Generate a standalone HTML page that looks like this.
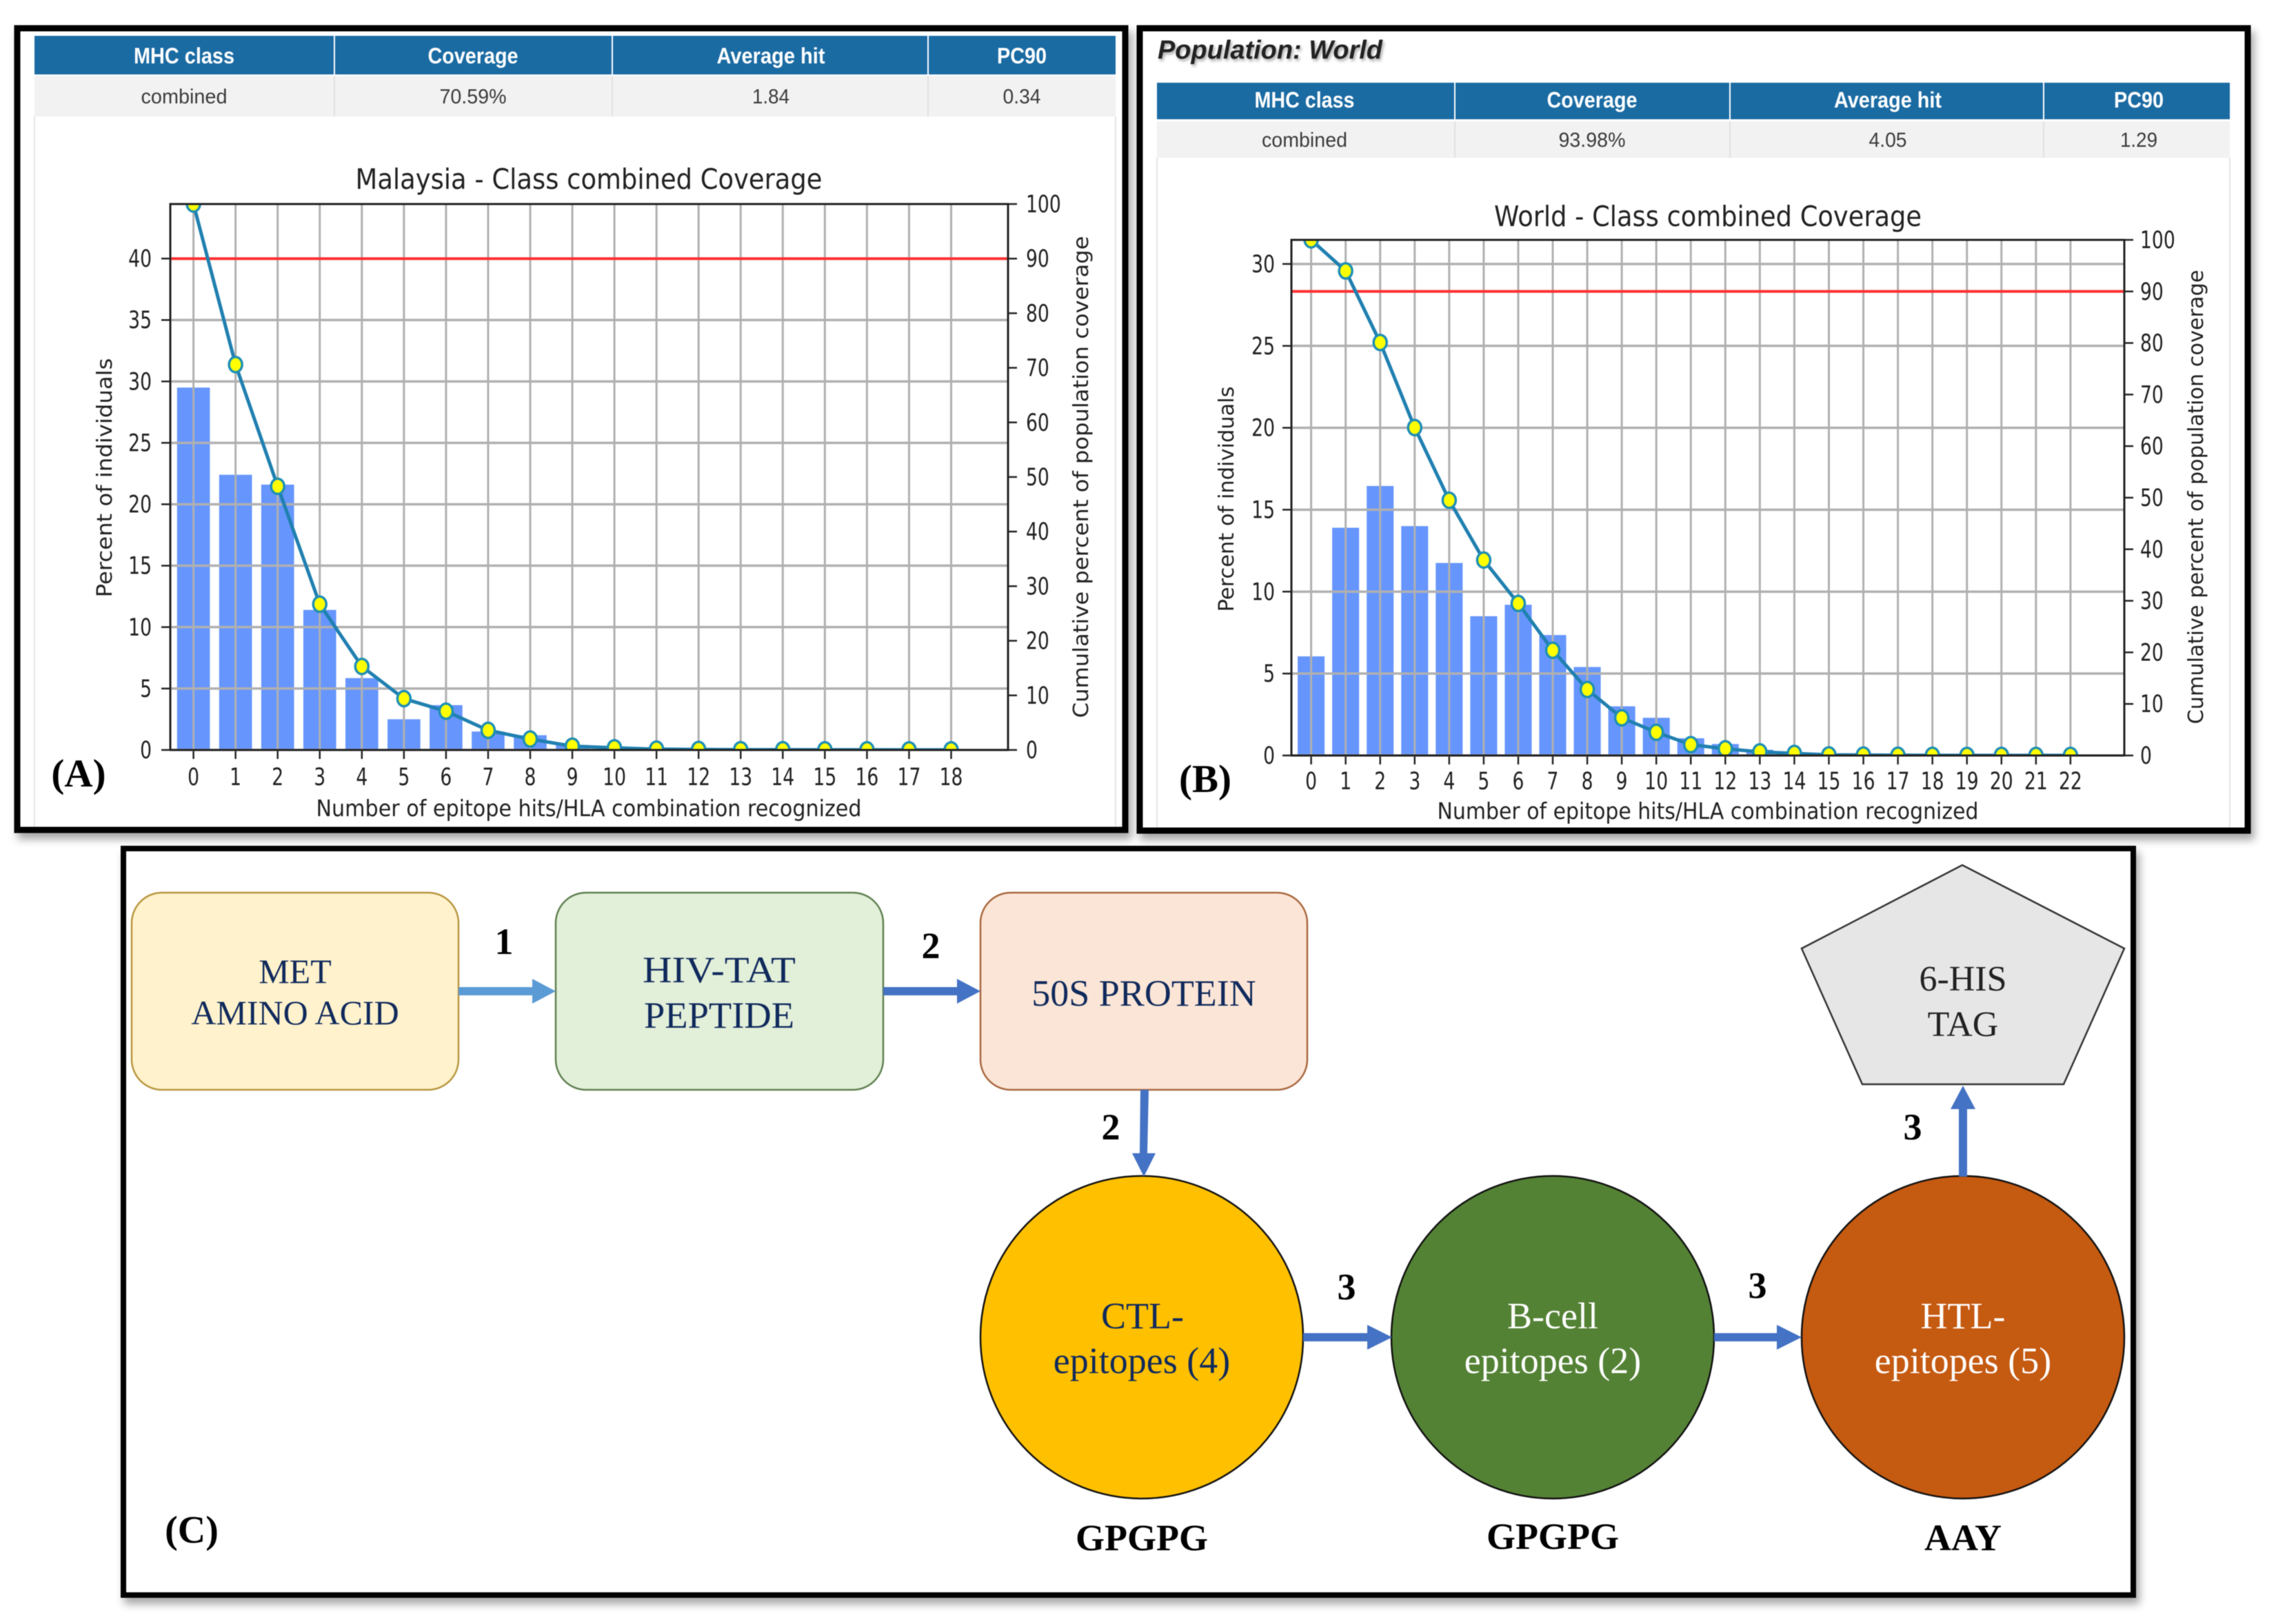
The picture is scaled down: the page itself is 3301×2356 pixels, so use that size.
<!DOCTYPE html>
<html lang="en">
<head>
<meta charset="utf-8">
<title>Epitope population coverage and vaccine construct</title>
<style>
html,body{margin:0;padding:0;background:#fff;width:3301px;height:2356px;overflow:hidden}
svg{display:block;filter:blur(.6px)}
.hd{font:bold 32px "Liberation Sans",sans-serif;fill:#fff;text-anchor:middle}
.rw{font:30px "Liberation Sans",sans-serif;fill:#3c3c3c;text-anchor:middle}
.bx{font-family:"Liberation Serif",serif;font-size:54px;text-anchor:middle;fill:#102a5c}
.lb{font-family:"Liberation Serif",serif;font-weight:bold;font-size:54px;text-anchor:middle;fill:#000}
</style>
</head>
<body>
<svg id="root" xmlns="http://www.w3.org/2000/svg" width="3301" height="2356" viewBox="0 0 3301 2356">
<defs>
<filter id="sh" x="-3%" y="-3%" width="106%" height="106%"><feDropShadow dx="5" dy="9" stdDeviation="6" flood-color="#000" flood-opacity=".35"/></filter>
<filter id="ts" x="-5%" y="-20%" width="110%" height="150%"><feDropShadow dx="2" dy="3" stdDeviation="2" flood-color="#000" flood-opacity=".35"/></filter>
</defs>

<!-- Panel A -->
<g>
<rect x="25" y="41" width="1607" height="1163" fill="#fff" stroke="#000" stroke-width="9" filter="url(#sh)"/>
<path d="M50 169V1199M1618 169V1199" stroke="#e4e4e4" stroke-width="2" fill="none"/>
<g>
<rect x="50" y="52" width="1568" height="56" fill="#1b6ba3"/>
<rect x="50" y="110" width="1568" height="59" fill="#f2f2f2"/>
<path d="M485 52V108M888 52V108M1346 52V108" stroke="#fff" stroke-width="2"/>
<path d="M485 110V169M888 110V169M1346 110V169" stroke="#e0e0e0" stroke-width="2"/>
<text class="hd" x="267" y="92" textLength="146" lengthAdjust="spacingAndGlyphs">MHC class</text>
<text class="hd" x="686" y="92" textLength="131" lengthAdjust="spacingAndGlyphs">Coverage</text>
<text class="hd" x="1118" y="92" textLength="157" lengthAdjust="spacingAndGlyphs">Average hit</text>
<text class="hd" x="1482" y="92" textLength="72" lengthAdjust="spacingAndGlyphs">PC90</text>
<text class="rw" x="267" y="150" textLength="125" lengthAdjust="spacingAndGlyphs">combined</text>
<text class="rw" x="686" y="150" textLength="97" lengthAdjust="spacingAndGlyphs">70.59%</text>
<text class="rw" x="1118" y="150" textLength="54" lengthAdjust="spacingAndGlyphs">1.84</text>
<text class="rw" x="1482" y="150" textLength="55" lengthAdjust="spacingAndGlyphs">0.34</text>
</g>
<g id="chartA"></g>
<text class="lb" style="font-size:57px" x="114" y="1141">(A)</text>
</g>

<!-- Panel B -->
<g>
<rect x="1653" y="41" width="1607" height="1164" fill="#fff" stroke="#000" stroke-width="9" filter="url(#sh)"/>
<path d="M1678 229V1200M3234 229V1200" stroke="#e4e4e4" stroke-width="2" fill="none"/>
<text x="1679" y="85" filter="url(#ts)" textLength="326" lengthAdjust="spacingAndGlyphs" style="font:italic bold 38px 'Liberation Sans',sans-serif;fill:#222">Population: World</text>
<g>
<rect x="1678" y="120" width="1556" height="53" fill="#1b6ba3"/>
<rect x="1678" y="176" width="1556" height="53" fill="#f2f2f2"/>
<path d="M2110 120V173M2509 120V173M2964 120V173" stroke="#fff" stroke-width="2"/>
<path d="M2110 176V229M2509 176V229M2964 176V229" stroke="#e0e0e0" stroke-width="2"/>
<text class="hd" x="1892" y="156" textLength="145" lengthAdjust="spacingAndGlyphs">MHC class</text>
<text class="hd" x="2309" y="156" textLength="131" lengthAdjust="spacingAndGlyphs">Coverage</text>
<text class="hd" x="2738" y="156" textLength="156" lengthAdjust="spacingAndGlyphs">Average hit</text>
<text class="hd" x="3102" y="156" textLength="72" lengthAdjust="spacingAndGlyphs">PC90</text>
<text class="rw" x="1892" y="213" textLength="124" lengthAdjust="spacingAndGlyphs">combined</text>
<text class="rw" x="2309" y="213" textLength="97" lengthAdjust="spacingAndGlyphs">93.98%</text>
<text class="rw" x="2738" y="213" textLength="55" lengthAdjust="spacingAndGlyphs">4.05</text>
<text class="rw" x="3102" y="213" textLength="54" lengthAdjust="spacingAndGlyphs">1.29</text>
</g>
<g id="chartB"></g>
<text class="lb" style="font-size:57px" x="1748" y="1149">(B)</text>
</g>

<!-- Panel C -->
<g>
<rect x="179" y="1231" width="2915" height="1083" fill="#fff" stroke="#000" stroke-width="8" filter="url(#sh)"/>

<rect x="191" y="1295" width="474" height="286" rx="44" ry="44" fill="#fff2cc" stroke="#b8963e" stroke-width="2.5"/>
<text class="bx" style="font-size:50px" x="428" y="1426">MET</text>
<text class="bx" style="font-size:50px" x="428" y="1486">AMINO ACID</text>

<rect x="806" y="1295" width="475" height="286" rx="44" ry="44" fill="#e2efd9" stroke="#5f8050" stroke-width="2.5"/>
<text class="bx" x="1043" y="1425" textLength="222" lengthAdjust="spacingAndGlyphs">HIV-TAT</text>
<text class="bx" x="1043" y="1491" textLength="218" lengthAdjust="spacingAndGlyphs">PEPTIDE</text>

<rect x="1422" y="1295" width="474" height="286" rx="44" ry="44" fill="#fbe5d6" stroke="#a9673e" stroke-width="2.5"/>
<text class="bx" x="1659" y="1459">50S PROTEIN</text>

<circle cx="1656" cy="1940" r="234" fill="#ffc000" stroke="#111" stroke-width="2.5"/>
<text class="bx" x="1657" y="1927">CTL-</text>
<text class="bx" x="1656" y="1992">epitopes (4)</text>

<circle cx="2252" cy="1940" r="234" fill="#548235" stroke="#111" stroke-width="2.5"/>
<text class="bx" style="fill:#fff" x="2252" y="1927">B-cell</text>
<text class="bx" style="fill:#fff" x="2252" y="1992">epitopes (2)</text>

<circle cx="2847" cy="1940" r="234" fill="#c55a11" stroke="#111" stroke-width="2.5"/>
<text class="bx" style="fill:#fff" x="2847" y="1927">HTL-</text>
<text class="bx" style="fill:#fff" x="2847" y="1992">epitopes (5)</text>

<polygon points="2846,1255 3081,1376 2993,1573 2701,1573 2613,1376" fill="#e6e6e6" stroke="#333" stroke-width="2.5"/>
<text class="bx" style="fill:#222;font-size:52px" x="2847" y="1437">6-HIS</text>
<text class="bx" style="fill:#222;font-size:52px" x="2847" y="1503">TAG</text>

<g>
<polygon points="665,1432 772,1432 772,1420 806,1438 772,1456 772,1444 665,1444" fill="#5b9bd5"/>
<polygon points="1281,1432 1388,1432 1388,1420 1422,1438 1388,1456 1388,1444 1281,1444" fill="#4472c4"/>
<polygon points="1654,1581 1666,1581 1664,1673 1676,1673 1659,1707 1642,1673 1653,1673" fill="#4472c4"/>
<polygon points="1890,1934 1983,1934 1983,1922 2019,1940 1983,1958 1983,1946 1890,1946" fill="#4472c4"/>
<polygon points="2486,1934 2577,1934 2577,1922 2613,1940 2577,1958 2577,1946 2486,1946" fill="#4472c4"/>
<polygon points="2841,1707 2841,1609 2829,1609 2847,1575 2865,1609 2853,1609 2853,1707" fill="#4472c4"/>
</g>

<text class="lb" x="731" y="1384">1</text>
<text class="lb" x="1350" y="1390">2</text>
<text class="lb" x="1611" y="1653">2</text>
<text class="lb" x="1953" y="1885">3</text>
<text class="lb" x="2549" y="1883">3</text>
<text class="lb" x="2774" y="1653">3</text>
<text class="lb" x="1656" y="2249">GPGPG</text>
<text class="lb" x="2252" y="2247">GPGPG</text>
<text class="lb" x="2847" y="2249">AAY</text>
<text class="lb" style="font-size:56px" x="278" y="2238">(C)</text>
</g>
</svg>

<script>
// Malaysia chart data
const categoriesA = ["0","1","2","3","4","5","6","7","8","9","10","11","12","13","14","15","16","17","18"];
const individualsA = [29.5,22.4,21.6,11.4,5.85,2.5,3.65,1.5,1.2,0.4,0.15,0.08,0.05,0.03,0.02,0.01,0.01,0.01,0.01];
const coverageA = [100,70.59,48.3,26.7,15.3,9.4,7.1,3.6,2.0,0.7,0.4,0.15,0.1,0.05,0.05,0.03,0.03,0.02,0.02];
const leftTicksA = [0,5,10,15,20,25,30,35,40];
// World chart data
const categoriesB = ["0","1","2","3","4","5","6","7","8","9","10","11","12","13","14","15","16","17","18","19","20","21","22"];
const individualsB = [6.05,13.9,16.45,14.0,11.75,8.5,9.2,7.35,5.4,3.0,2.3,1.05,0.7,0.35,0.12,0.05,0.03,0.02,0.01,0.01,0.01,0.01,0.01];
const coverageB = [100,93.98,80.1,63.6,49.5,37.9,29.5,20.4,12.8,7.3,4.5,2.1,1.3,0.7,0.4,0.12,0.08,0.05,0.03,0.02,0.02,0.01,0.01];
const leftTicksB = [0,5,10,15,20,25,30];
// Shared right axis
const rightTicks = [0,10,20,30,40,50,60,70,80,90,100];
const thresholdPercent = [90];

const NS = 'http://www.w3.org/2000/svg';
const CHART_FONT = '"DejaVu Sans",sans-serif';
const TICK_SQUEEZE = 0.76;

function make(parent, tag, attrs, text) {
  const el = document.createElementNS(NS, tag);
  for (const k in attrs) el.setAttribute(k, attrs[k]);
  if (text !== undefined) el.textContent = text;
  parent.appendChild(el);
  return el;
}

function tickText(parent, x, y, anchor, text) {
  return make(parent, 'text', {
    transform: 'translate(' + x + ',' + y + ') scale(' + TICK_SQUEEZE + ',1)',
    'text-anchor': anchor, 'font-family': CHART_FONT, 'font-size': 35, fill: '#222'
  }, text);
}

function drawChart(g, frame, labels, categories, individuals, coverage, leftTicks) {
  const xAxis = function (i) { return frame.x0 + i * frame.step; };
  const yLeft = function (v) { return frame.bottom - (frame.bottom - frame.top) * v / frame.leftMax; };
  const yRight = function (v) { return frame.bottom - (frame.bottom - frame.top) * v / 100; };
  const clipId = 'clip-' + g.id;
  const defs = make(g, 'defs', {});
  const cp = make(defs, 'clipPath', { id: clipId });
  make(cp, 'rect', { x: frame.left, y: frame.top, width: frame.right - frame.left, height: frame.bottom - frame.top });

  const title = make(g, 'text', { x: frame.titleX, y: frame.titleY, 'text-anchor': 'middle', 'font-family': CHART_FONT, 'font-size': 41, fill: '#222', textLength: frame.titleLen, lengthAdjust: 'spacingAndGlyphs' }, labels.title);
  
  

  individuals.forEach(function (v, i) {
    const bar = make(g, 'rect', { x: xAxis(i) - frame.step * 0.39, y: yLeft(v), width: frame.step * 0.78, height: frame.bottom - yLeft(v), fill: '#6696fd' });
    
    
  });

  categories.forEach(function (c, i) {
    const line = make(g, 'line', { x1: xAxis(i), x2: xAxis(i), y1: frame.top, y2: frame.bottom, stroke: '#b0b0b0', 'stroke-width': 3 });
    
    
    const tick = make(g, 'line', { x1: xAxis(i), x2: xAxis(i), y1: frame.bottom, y2: frame.bottom + 13, stroke: '#222', 'stroke-width': 2.5 });
    
    
    const label = tickText(g, xAxis(i), frame.xTickY, 'middle', c);
    
    
  });

  leftTicks.forEach(function (v) {
    const line = make(g, 'line', { x1: frame.left, x2: frame.right, y1: yLeft(v), y2: yLeft(v), stroke: '#b0b0b0', 'stroke-width': 3.5 });
    
    
    const tick = make(g, 'line', { x1: frame.left - 13, x2: frame.left, y1: yLeft(v), y2: yLeft(v), stroke: '#222', 'stroke-width': 2.5 });
    
    
    const label = tickText(g, frame.leftLabelX, yLeft(v) + 12, 'end', String(v));
    
    
  });

  rightTicks.forEach(function (v) {
    const tick = make(g, 'line', { x1: frame.right, x2: frame.right + 13, y1: yRight(v), y2: yRight(v), stroke: '#222', 'stroke-width': 2.5 });
    
    
    const label = tickText(g, frame.rightLabelX, yRight(v) + 12, 'start', String(v));
    
    
  });

  thresholdPercent.forEach(function (v) {
    const red = make(g, 'line', { x1: frame.left, x2: frame.right, y1: yRight(v), y2: yRight(v), stroke: '#ff3030', 'stroke-width': 4 });
    
    
  });

  const plot = make(g, 'g', { 'clip-path': 'url(#' + clipId + ')' });
  
  
  const pts = coverage.map(function (v, i) { return xAxis(i) + ',' + yRight(v); }).join(' ');
  const poly = make(plot, 'polyline', { points: pts, fill: 'none', stroke: '#2080b0', 'stroke-width': 5 });
  
  
  coverage.forEach(function (v, i) {
    const dot = make(plot, 'ellipse', { cx: xAxis(i), cy: yRight(v), rx: 9.5, ry: 11, fill: '#ffff00', stroke: '#1f8fb5', 'stroke-width': 3.5 });
    
    
  });

  const spine = make(g, 'rect', { x: frame.left, y: frame.top, width: frame.right - frame.left, height: frame.bottom - frame.top, fill: 'none', stroke: '#222', 'stroke-width': 3 });
  
  

  const xt = make(g, 'text', { x: frame.titleX, y: frame.xLabelY, 'text-anchor': 'middle', 'font-family': CHART_FONT, 'font-size': 33, fill: '#222', textLength: frame.xLabelLen, lengthAdjust: 'spacingAndGlyphs' }, labels.x);
  
  

  const yl = make(g, 'text', { transform: 'translate(' + frame.yTitleX + ',' + frame.yTitleY + ') rotate(-90)', 'text-anchor': 'middle', 'font-family': CHART_FONT, 'font-size': 30, fill: '#222', textLength: frame.yTitleLen, lengthAdjust: 'spacingAndGlyphs' }, labels.yLeft);
  
  

  const yr = make(g, 'text', { transform: 'translate(' + frame.y2TitleX + ',' + frame.y2TitleY + ') rotate(-90)', 'text-anchor': 'middle', 'font-family': CHART_FONT, 'font-size': 30, fill: '#222', textLength: frame.y2TitleLen, lengthAdjust: 'spacingAndGlyphs' }, labels.yRight);
  
  
}

drawChart(document.getElementById('chartA'),
  { left: 247, right: 1462, top: 296, bottom: 1088, x0: 280.6, step: 61.05, leftMax: 44.44,
    titleX: 854, titleY: 274, titleLen: 677, xLabelY: 1184, xLabelLen: 791, xTickY: 1139,
    leftLabelX: 220, rightLabelX: 1488,
    yTitleX: 162, yTitleY: 693, yTitleLen: 347, y2TitleX: 1578, y2TitleY: 692, y2TitleLen: 699 },
  { title: 'Malaysia - Class combined Coverage', x: 'Number of epitope hits/HLA combination recognized', yLeft: 'Percent of individuals', yRight: 'Cumulative percent of population coverage' },
  categoriesA, individualsA, coverageA, leftTicksA);

drawChart(document.getElementById('chartB'),
  { left: 1873, right: 3081, top: 348, bottom: 1096, x0: 1901.6, step: 50.06, leftMax: 31.47,
    titleX: 2477, titleY: 328, titleLen: 620, xLabelY: 1188, xLabelLen: 785, xTickY: 1145,
    leftLabelX: 1849, rightLabelX: 3104,
    yTitleX: 1789, yTitleY: 724, yTitleLen: 327, y2TitleX: 3195, y2TitleY: 721, y2TitleLen: 659 },
  { title: 'World - Class combined Coverage', x: 'Number of epitope hits/HLA combination recognized', yLeft: 'Percent of individuals', yRight: 'Cumulative percent of population coverage' },
  categoriesB, individualsB, coverageB, leftTicksB);
</script>
</body>
</html>
